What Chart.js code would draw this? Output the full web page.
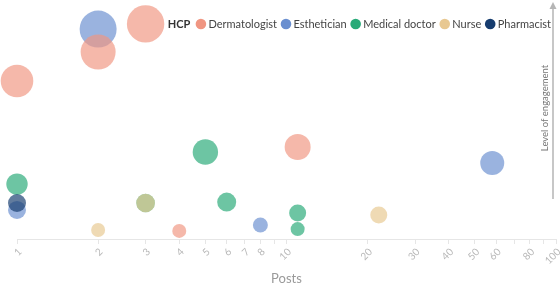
<!DOCTYPE html>
<html>
<head>
<meta charset="utf-8">
<script src="https://cdn.jsdelivr.net/npm/chart.js@4/dist/chart.umd.min.js"></script>
<style>
html,body{margin:0;padding:0;background:#fff;}
#wrap{width:560px;height:287px;position:relative;}
</style>
</head>
<body>
<div id="wrap"><canvas id="c" width="560" height="287"></canvas></div>
<script>
// ---- data ----
const seriesNames = ["Dermatologist", "Esthetician", "Medical doctor", "Nurse", "Pharmacist"];
const seriesColors = ["rgb(240,150,130)", "rgb(106,143,208)", "rgb(40,170,120)", "rgb(232,200,145)", "rgb(22,60,110)"];

const dermPosts = [1, 2, 3, 4, 11];
const dermEngagement = [70.2, 83.1, 95.6, 3.6, 40.9];
const dermSize = [16.3, 17.5, 18.7, 7, 13];

const esthPosts = [1, 2, 8, 58];
const esthEngagement = [12.9, 93.3, 6.2, 33.8];
const esthSize = [9, 18.5, 7.5, 12];

const mdPosts = [1, 3, 5, 6, 11, 11];
const mdEngagement = [24.4, 16, 38.7, 16.4, 11.6, 4.4];
const mdSize = [10.7, 9.3, 12.7, 9.5, 8.5, 7];

const nursePosts = [2, 3, 22];
const nurseEngagement = [4, 16, 10.7];
const nurseSize = [7, 9.3, 8.5];

const pharmPosts = [1];
const pharmEngagement = [16];
const pharmSize = [9];

const tickValues = [1, 2, 3, 4, 5, 6, 7, 8, 9, 10, 20, 30, 40, 50, 60, 70, 80, 90, 100];
const hiddenTickLabels = [9, 70, 90];
const xTitle = "Posts";
const yTitle = "Level of engagement";
const legendTitle = "HCP";

// ---- build ----
function pts(xs, ys, rs) { return xs.map((x, i) => ({x: x, y: ys[i], r: rs[i]})); }
function alpha(c, a) { return c.replace("rgb(", "rgba(").replace(")", "," + a + ")"); }

const raw = [
  pts(dermPosts, dermEngagement, dermSize),
  pts(esthPosts, esthEngagement, esthSize),
  pts(mdPosts, mdEngagement, mdSize),
  pts(nursePosts, nurseEngagement, nurseSize),
  pts(pharmPosts, pharmEngagement, pharmSize)
];
const drawOrder = [0, 3, 4, 2, 1]; // lower = drawn on top

const datasets = raw.map((d, i) => ({
  label: seriesNames[i],
  data: d,
  backgroundColor: alpha(seriesColors[i], 0.68),
  borderWidth: 0,
  hoverBorderWidth: 0,
  order: drawOrder[i],
  clip: false
}));

const FONT = "Lato, 'Open Sans', sans-serif";

const extras = {
  id: "extras",
  afterDraw(chart) {
    const ctx = chart.ctx;
    const ca = chart.chartArea;
    ctx.save();
    // legend (drawn right-aligned at top)
    const cy = 24;
    ctx.font = "11px " + FONT;
    ctx.textBaseline = "middle";
    let x = ca.right - 5;
    const items = [];
    for (let i = seriesNames.length - 1; i >= 0; i--) {
      const w = ctx.measureText(seriesNames[i]).width;
      const ts = x - w;
      const cc = ts - 7.5;
      items.unshift({i: i, ts: ts, cc: cc});
      x = cc - 9;
    }
    items.forEach(it => {
      ctx.fillStyle = seriesColors[it.i];
      ctx.beginPath();
      ctx.arc(it.cc, cy, 5.3, 0, Math.PI * 2);
      ctx.fill();
      ctx.fillStyle = "#444";
      ctx.textAlign = "left";
      ctx.fillText(seriesNames[it.i], it.ts, cy + 0.5);
    });
    ctx.font = "bold 11px " + FONT;
    ctx.fillStyle = "#333";
    ctx.textAlign = "right";
    ctx.fillText(legendTitle, items[0].cc - 10.5, cy + 0.5);

    // y axis arrow line
    const ax = ca.right - 3;
    ctx.strokeStyle = "#b5b5b5";
    ctx.lineWidth = 1.5;
    ctx.beginPath();
    ctx.moveTo(ax, 8);
    ctx.lineTo(ax, 199);
    ctx.stroke();
    ctx.fillStyle = "#b5b5b5";
    ctx.beginPath();
    ctx.moveTo(ax, 2);
    ctx.lineTo(ax - 3.5, 9);
    ctx.lineTo(ax + 3.5, 9);
    ctx.closePath();
    ctx.fill();
    // y title
    ctx.translate(ax - 8, 108);
    ctx.rotate(-Math.PI / 2);
    ctx.font = "9.5px " + FONT;
    ctx.fillStyle = "#777";
    ctx.textAlign = "center";
    ctx.textBaseline = "middle";
    ctx.fillText(yTitle, 0, 0);
    ctx.restore();
  }
};

new Chart(document.getElementById("c"), {
  type: "bubble",
  data: { datasets: datasets },
  options: {
    responsive: false,
    animation: false,
    events: [],
    layout: { autoPadding: false, padding: { left: 17, right: 4, top: 14, bottom: 0 } },
    plugins: {
      tooltip: { enabled: false },
      legend: { display: false }
    },
    scales: {
      x: {
        type: "logarithmic",
        position: "bottom",
        min: 1,
        max: 100,
        afterBuildTicks(scale) { scale.ticks = tickValues.map(v => ({value: v})); },
        afterFit(scale) { scale.height = 48; scale.paddingLeft = 0; scale.paddingRight = 0; },
        grid: { drawOnChartArea: false, drawTicks: true, tickLength: 5, color: "#e6e6e6" },
        border: { display: true, color: "#e6e6e6" },
        ticks: {
          autoSkip: false,
          minRotation: 45,
          maxRotation: 45,
          padding: 2,
          labelOffset: 3,
          color: "#b8b8b8",
          font: { family: FONT, size: 10 },
          callback(value) {
            const v = Number(value);
            if (hiddenTickLabels.includes(v)) return "";
            return String(v);
          }
        },
        title: {
          display: true,
          text: xTitle,
          color: "#9a9a9a",
          font: { family: FONT, size: 13 },
          padding: { top: 0, bottom: 0 }
        }
      },
      y: {
        display: false,
        min: 0,
        max: 100
      }
    }
  },
  plugins: [extras]
});
</script>
</body>
</html>
